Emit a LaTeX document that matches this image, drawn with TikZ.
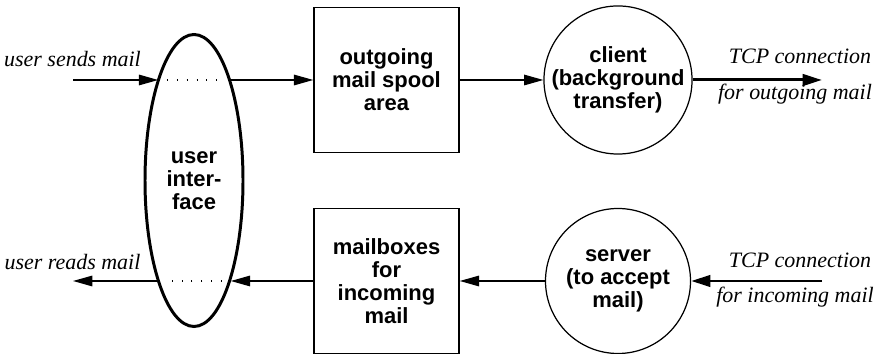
\documentclass[tikz,border=0pt]{standalone}
\usepackage{fontspec}
\setmainfont{Liberation Serif}
\setsansfont{Liberation Sans}
\usetikzlibrary{arrows.meta, shapes.geometric}

\begin{document}
\begin{tikzpicture}[
        box/.style={draw, line width=0.85pt, minimum width=2.9cm, minimum height=2.9cm, inner sep=0pt, align=center, font=\fontsize{12.5}{13}\selectfont\sffamily\bfseries},
        proc/.style={draw, circle, line width=0.7pt, minimum size=2.9cm, inner sep=0pt, align=center, font=\fontsize{12.5}{13}\selectfont\sffamily\bfseries},
        lbl/.style={anchor=base, inner sep=0pt, font=\fontsize{12.5}{14}\selectfont\itshape},
        flow/.style={line width=0.75pt, -{Triangle[length=11pt, width=6pt]}},
        tcp/.style={line width=1.7pt, -{Triangle[length=11pt, width=6.5pt]}},
        inside/.style={line width=0.6pt, dash pattern=on 0.6pt off 5pt, shorten <=5pt, shorten >=4pt}]
        \useasboundingbox (0,0) rectangle (17.7,7.08);
        % the five parts
        \node[ellipse, draw, line width=1.7pt, minimum width=1.96cm, minimum height=5.84cm, inner sep=0pt, align=center, font=\fontsize{12.5}{13}\selectfont\sffamily\bfseries] (ui) at (3.88,3.47) {user\\inter-\\face};
        \node[box] (spool) at (7.73,5.48) {outgoing\\mail spool\\area};
        \node[box] (mbox) at (7.73,1.46) {mailboxes\\for\\incoming\\mail};
        \node[proc] (client) at (12.36,5.48) {client\\(background\\transfer)};
        \node[proc] (server) at (12.36,1.46) {server\\(to accept\\mail)};
        % free ends
        \coordinate (sendin) at (1.46,5.48);
        \coordinate (readout) at (1.46,1.46);
        \coordinate (tcpout) at (16.44,5.48);
        \coordinate (tcpin) at (16.44,1.46);
        % where the rows meet the ellipse
        \coordinate (uiTL) at (ui.109.5 |- sendin);
        \coordinate (uiTR) at (ui.70.5 |- sendin);
        \coordinate (uiBL) at (ui.-109.5 |- readout);
        \coordinate (uiBR) at (ui.-70.5 |- readout);
        % texts
        \node[lbl] (sendtxt) at (1.45,5.74) {user sends mail};
        \node[lbl] (readtxt) at (1.45,1.68) {user reads mail};
        \node[lbl] (outtop) at (16.0,5.80) {TCP connection};
        \node[lbl] (outbot) at (15.9,5.08) {for outgoing mail};
        \node[lbl] (intop) at (16.0,1.72) {TCP connection};
        \node[lbl] (inbot) at (15.9,1.02) {for incoming mail};
        % connectors
        \draw[flow] (sendin) -- (uiTL);
        \draw[inside] (uiTL) -- (uiTR);
        \draw[flow] (uiTR) -- (spool);
        \draw[flow] (spool) -- (client);
        \draw[tcp] (client) -- (tcpout);
        \draw[tcp] (tcpin) -- (server);
        \draw[flow] (server) -- (mbox);
        \draw[flow] (mbox) -- (uiBR);
        \draw[inside] (uiBR) -- (uiBL);
        \draw[flow] (uiBL) -- (readout);
    \end{tikzpicture}
\end{document}
